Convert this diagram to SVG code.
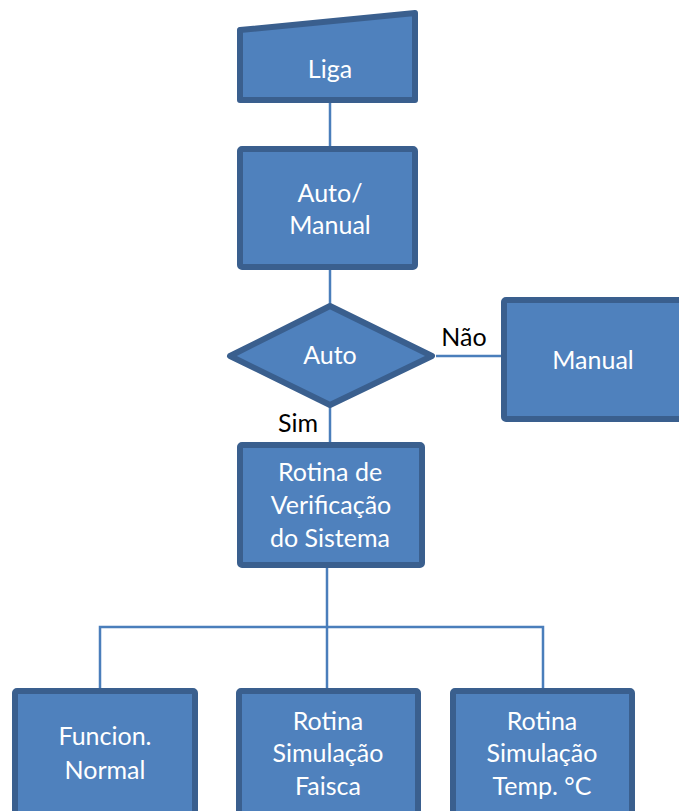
<svg xmlns="http://www.w3.org/2000/svg" width="679" height="811" viewBox="0 0 679 811">
<style>
.n{fill:#4f81bd;stroke:#3a5f8e;stroke-width:6;stroke-linejoin:round}
.t{font-family:Lato,"Open Sans",sans-serif;font-size:25px;fill:#fff;text-anchor:middle}
.l{font-family:Lato,"Open Sans",sans-serif;font-size:25px;fill:#000;text-anchor:middle}
.c{fill:none;stroke:#4a7ebb;stroke-width:2.5}
</style>
<rect width="679" height="811" fill="#fff"/>
<g id="connectors">
<path class="c" d="M330 103V146"/>
<path class="c" d="M330 270V304"/>
<path class="c" d="M436 356H501"/>
<path class="c" d="M330 407V442"/>
<path class="c" d="M327 568V688"/>
<path class="c" d="M100 688V627H543V688"/>
<text class="l" x="464" y="346">Não</text>
<text class="l" x="298" y="432">Sim</text>
</g>
<g id="liga">
<path class="n" d="M240 30L415 13V100H240Z"/>
<text class="t" x="330" y="78">Liga</text>
</g>
<g id="automanual">
<rect class="n" x="240" y="149" width="175" height="118" rx="2"/>
<text class="t" x="330" y="202">Auto/</text>
<text class="t" x="330" y="234">Manual</text>
</g>
<g id="auto">
<path class="n" d="M330 306L432 356L330 405L230 356Z"/>
<text class="t" x="330" y="364">Auto</text>
</g>
<g id="manual">
<rect class="n" x="504" y="300" width="190" height="119" rx="2"/>
<text class="t" x="593" y="369">Manual</text>
</g>
<g id="verificacao">
<rect class="n" x="240" y="445" width="182" height="120" rx="2"/>
<text class="t" x="330" y="481">Rotina de</text>
<text class="t" x="331" y="514">Verificação</text>
<text class="t" x="330" y="547">do Sistema</text>
</g>
<g id="normal">
<rect class="n" x="15" y="691" width="180" height="140" rx="2"/>
<text class="t" x="105" y="745">Funcion.</text>
<text class="t" x="105" y="779">Normal</text>
</g>
<g id="faisca">
<rect class="n" x="239" y="691" width="179" height="140" rx="2"/>
<text class="t" x="328" y="730">Rotina</text>
<text class="t" x="328" y="762">Simulação</text>
<text class="t" x="328" y="795">Faisca</text>
</g>
<g id="temp">
<rect class="n" x="453" y="691" width="179" height="140" rx="2"/>
<text class="t" x="542" y="730">Rotina</text>
<text class="t" x="542" y="762">Simulação</text>
<text class="t" x="542" y="795">Temp. °C</text>
</g>
</svg>
